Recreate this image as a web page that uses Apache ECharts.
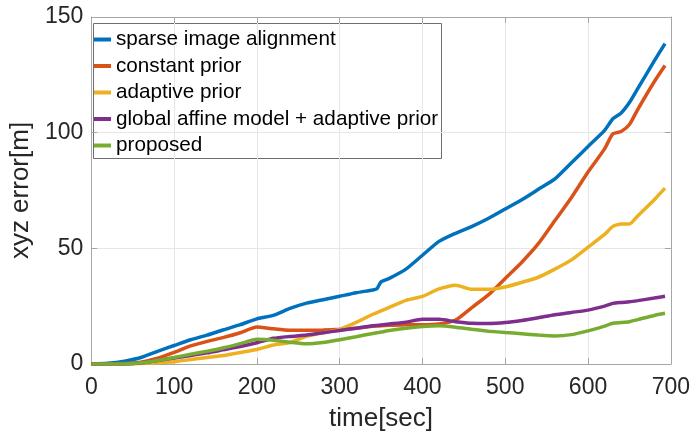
<!DOCTYPE html>
<html>
<head>
<meta charset="utf-8">
<script src="https://cdn.jsdelivr.net/npm/echarts@6/dist/echarts.min.js"></script>
<style>
  html, body { margin: 0; padding: 0; background: #ffffff; }
  #chart { width: 693px; height: 441px; }
</style>
</head>
<body>
<div id="chart"></div>
<script>
// Sample times (sec) shared by every series
const times = [0, 20, 40, 60, 80, 100, 120, 140, 160, 180, 200, 220, 240, 260, 280, 300, 320, 340, 345, 350,
  360, 380, 400, 420, 440, 460, 480, 500, 520, 540, 560, 580, 600, 620, 630, 640, 650, 660, 680, 693];

// xyz error (m) per method
const sparseImageAlignment = [0, 0.3, 1.2, 2.8, 5.5, 8, 10.5, 12.5, 14.8, 17, 19.5, 21, 24, 26.3, 27.8, 29.3, 30.8, 32, 32.5, 35.5,
  37, 41, 47, 53, 56.5, 59.5, 63, 67, 71, 75.5, 80, 87, 94, 101, 106, 108.5, 113, 119, 131, 138.5];
const constantPrior = [0, 0, 0.2, 0.8, 2.5, 5, 7.8, 9.8, 11.5, 13.5, 16, 15.2, 14.6, 14.6, 14.7, 15, 15.5, 16.3, 16.4, 16.5,
  16.7, 17, 17, 17.3, 19, 24.5, 30, 37, 44, 52, 62, 72, 83, 93, 99.5, 100.5, 103.5, 110, 122, 129];
const adaptivePrior = [0, 0, 0, 0.2, 0.6, 1, 1.9, 2.8, 3.7, 5, 6.3, 8.2, 9.3, 12, 13.5, 15, 18, 21.5, 22.2, 23,
  24.5, 27.5, 29.2, 32.5, 34, 32.3, 32.3, 33.3, 35.3, 37.5, 41, 45, 50.5, 56, 59.5, 60.5, 60.5, 64, 71, 76];
const globalAffineAdaptive = [0, 0, 0, 0.5, 1.5, 2.6, 3.7, 4.8, 6.2, 7.6, 9.2, 11.1, 11.9, 12.5, 13.5, 14.5, 15.5, 16.5, 16.7, 16.9,
  17.3, 18.1, 19.3, 19.3, 18.3, 17.6, 17.5, 17.9, 18.8, 20, 21.3, 22.3, 23.3, 25, 26.2, 26.6, 26.9, 27.4, 28.5, 29.3];
const proposed = [0, 0, 0, 0.5, 1.5, 2.8, 4.2, 5.5, 7, 8.8, 10.7, 10.3, 9.4, 8.7, 9.3, 10.5, 11.8, 13.2, 13.5, 13.8,
  14.5, 15.5, 16.2, 16.5, 15.9, 15, 14.2, 13.6, 13.1, 12.5, 12.1, 12.7, 14.3, 16.4, 17.6, 17.9, 18.3, 19.2, 21, 21.9];

const seriesNames = ['sparse image alignment', 'constant prior', 'adaptive prior',
  'global affine model + adaptive prior', 'proposed'];
const seriesValues = [sparseImageAlignment, constantPrior, adaptivePrior, globalAffineAdaptive, proposed];
const seriesColors = ['#0072BD', '#D95319', '#EDB120', '#7E2F8E', '#77AC30'];

const xTicks = [0, 100, 200, 300, 400, 500, 600, 700];
const yTicks = [0, 50, 100, 150];

const FONT = '"Liberation Sans", Arial, sans-serif';
const TEXT = '#262626';
const FRAME = '#a6a6a6';

const chart = echarts.init(document.getElementById('chart'), null, { renderer: 'canvas' });

const baseAxis = {
  axisLine: { show: true, onZero: false, lineStyle: { color: FRAME, width: 1 } },
  axisTick: { show: true, inside: true, length: 6, lineStyle: { color: FRAME } },
};

chart.setOption({
  animation: false,
  backgroundColor: '#ffffff',
  grid: { left: 87, right: 18, top: 17, bottom: 77, containLabel: false },
  xAxis: [
    Object.assign({}, baseAxis, {
      type: 'value', min: xTicks[0], max: xTicks[xTicks.length - 1], interval: 100,
      name: 'time[sec]', nameLocation: 'middle', nameGap: 42,
      nameTextStyle: { fontFamily: FONT, fontSize: 26, color: TEXT },
      axisLabel: { fontFamily: FONT, fontSize: 23, color: TEXT, margin: 12 },
      splitLine: { show: true, lineStyle: { color: '#e6e6e6', width: 1 } },
    }),
    Object.assign({}, baseAxis, {
      type: 'value', position: 'top', min: xTicks[0], max: xTicks[xTicks.length - 1], interval: 100,
      axisLabel: { show: false }, splitLine: { show: false },
    }),
  ],
  yAxis: [
    Object.assign({}, baseAxis, {
      type: 'value', min: yTicks[0], max: yTicks[yTicks.length - 1], interval: 50,
      name: 'xyz error[m]', nameLocation: 'middle', nameGap: 50,
      nameTextStyle: { fontFamily: FONT, fontSize: 26, color: TEXT },
      axisLabel: { fontFamily: FONT, fontSize: 23, color: TEXT, margin: 8 },
      splitLine: { show: true, lineStyle: { color: '#e6e6e6', width: 1 } },
    }),
    Object.assign({}, baseAxis, {
      type: 'value', position: 'right', min: yTicks[0], max: yTicks[yTicks.length - 1], interval: 50,
      axisLabel: { show: false }, splitLine: { show: false },
    }),
  ],
  legend: {
    orient: 'vertical', left: 94, top: 29, padding: 0,
    itemGap: 5.5, itemWidth: 17, itemHeight: 4, icon: 'rect',
    textStyle: { fontFamily: FONT, fontSize: 20.7, color: '#000', lineHeight: 20 },
    data: seriesNames,
  },
  graphic: [{
    type: 'rect', left: 93, top: 23, z: 0, silent: true,
    shape: { width: 348, height: 135 },
    style: { fill: '#ffffff', stroke: '#6e6e6e', lineWidth: 1 },
  }],
  series: seriesNames.map((name, i) => ({
    name: name, type: 'line', xAxisIndex: 0, yAxisIndex: 0,
    data: times.map((t, k) => [t, seriesValues[i][k]]),
    showSymbol: false, symbol: 'none', smooth: 0.2,
    lineStyle: { color: seriesColors[i], width: 3.5 },
    itemStyle: { color: seriesColors[i] },
    z: 2 + i,
  })),
});
</script>
</body>
</html>
